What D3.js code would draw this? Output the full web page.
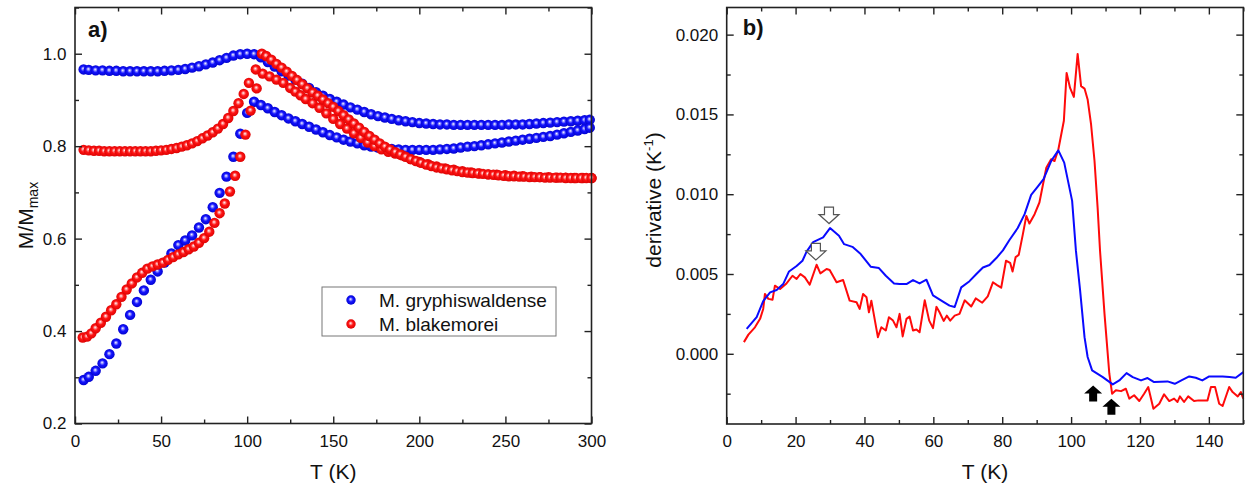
<!DOCTYPE html>
<html>
<head>
<meta charset="utf-8">
<script src="https://d3js.org/d3.v7.min.js"></script>
<style>
body { margin: 0; background: #fff; }
svg text { font-family: "Liberation Sans", Arial, sans-serif; fill: #111; }
</style>
</head>
<body>
<script>
//Panel a data: normalised magnetisation M/Mmax against temperature (K)
//blue = M. gryphiswaldense, red = M. blakemorei, two branches each

var tBlue = [5,8,12,16,20,24,28,32,36,40,44,48,52,56,60,64,68,72,76,80,84,88,92,96,100,104,108,112,116,120,
  124,128,132,136,140,144,148,152,156,160,164,168,172,176,180,184,188,192,196,200,204,208,212,216,220,224,228,232,236,240,
  244,248,252,256,260,264,268,272,276,280,284,288,292,296,299];

var mBlueUpper = [0.966,0.965,0.964,0.964,0.963,0.963,0.962,0.962,0.962,0.962,
  0.962,0.962,0.963,0.964,0.965,0.967,0.970,0.973,0.977,0.981,
  0.986,0.991,0.996,0.999,1.000,0.999,0.992,0.982,0.972,0.962,
  0.953,0.944,0.935,0.926,0.917,0.909,0.902,0.896,0.890,0.884,
  0.879,0.874,0.869,0.865,0.862,0.859,0.856,0.854,0.852,0.850,
  0.849,0.848,0.847,0.847,0.846,0.846,0.846,0.846,0.846,0.846,
  0.846,0.846,0.847,0.847,0.847,0.848,0.849,0.850,0.851,0.852,
  0.853,0.854,0.855,0.856,0.857];

var mBlueLower = [0.294,0.301,0.314,0.330,0.350,0.373,0.404,0.435,0.463,0.488,
  0.511,0.529,0.548,0.568,0.586,0.596,0.607,0.624,0.642,0.668,
  0.699,0.734,0.777,0.827,0.872,0.896,0.889,0.882,0.874,0.867,
  0.860,0.854,0.848,0.842,0.836,0.830,0.824,0.819,0.814,0.810,
  0.806,0.802,0.799,0.797,0.795,0.794,0.793,0.792,0.792,0.792,
  0.792,0.792,0.793,0.794,0.795,0.797,0.799,0.800,0.802,0.804,
  0.806,0.808,0.810,0.812,0.814,0.816,0.818,0.820,0.822,0.825,
  0.828,0.831,0.834,0.837,0.840];

var tRedUpper = [5,8,11,14,17,20,23,26,29,32,35,38,41,44,47,50,53,56,59,62,65,68,71,74,77,80,83,86,89,92,
  95,98,101,105,108.5,
  111,114,117,120,123,126,129,132,135,138,141,144,147,150,153,156,159,162,165,168,171,174,177,180,183,186,189,192,195,198,
  201,204,207,210,213,216,219,222,225,228,231,234,237,240,243,246,249,252,255,258,261,264,267,270,273,276,279,282,285,288,
  291,294,297,300];

var mRedUpper = [0.792,0.791,0.790,0.790,0.789,0.789,0.789,0.789,0.789,0.789,
  0.789,0.789,0.789,0.789,0.790,0.791,0.792,0.794,0.796,0.799,
  0.802,0.806,0.811,0.817,0.823,0.830,0.838,0.848,0.861,0.876,
  0.893,0.913,0.937,0.966,1.000,
  0.995,0.987,0.978,0.970,0.961,0.952,0.943,0.934,0.925,0.916,
  0.909,0.901,0.893,0.885,0.876,0.867,0.858,0.849,0.840,0.831,
  0.822,0.814,0.806,0.799,0.793,0.787,0.782,0.777,0.772,0.768,
  0.764,0.760,0.757,0.754,0.752,0.750,0.748,0.746,0.744,0.743,
  0.742,0.741,0.740,0.739,0.738,0.737,0.736,0.735,0.735,0.734,
  0.734,0.733,0.733,0.733,0.732,0.732,0.732,0.732,0.731,0.731,
  0.731,0.731,0.731,0.731];

var tRedLower = [4.5,7,9.5,12,15,18,21,24,27,30,33,36,39,42,45,48,51,54,57,60,63,66,69,72,75,78,81,84,87,90,
  93,96,99,102,105.5,109,113,117,121,125,128,131,134,138,142,146,150,154,158,162,166,170,174,178,182,186,
  190,195,200,205,210,215,220,225,230,235,240,245,250,255,260,265,270,275,280,285,290,295,300];

var mRedLower = [0.386,0.388,0.395,0.406,0.418,0.431,0.445,0.458,0.474,0.490,
  0.503,0.516,0.526,0.535,0.540,0.544,0.548,0.554,0.560,0.566,
  0.571,0.577,0.583,0.591,0.601,0.615,0.634,0.655,0.676,0.702,
  0.736,0.777,0.825,0.877,0.925,0.957,0.951,0.944,0.937,0.926,
  0.918,0.910,0.902,0.893,0.883,0.871,0.859,0.848,0.838,0.828,
  0.818,0.808,0.800,0.793,0.788,0.784,
  0.780,0.772,0.766,0.761,0.756,0.752,0.749,0.746,0.743,0.741,
  0.739,0.738,0.737,0.736,0.735,0.734,0.733,0.733,0.732,0.732,
  0.731,0.731,0.731];

//Panel b data: derivative dM/dT (1/K) against temperature (K)
var tBlueD = [5.8,8.7,10.6,12.6,14.5,16.4,18.1,20.3,22,23.2,25.1,28,30,32.6,34.1,36.5,38.9,41.8,44.2,46.2,
  48.6,50.2,52.2,54.1,56,58,59.9,62.8,64.7,66.2,68.1,70.5,72.5,74.4,76.3,78.3,80.2,82.1,84.5,86.5,
  88.4,90.2,92,94.2,96.3,98,100.3,101.4,102.6,103.9,104.8,106.1,109.2,112.1,114,116.1,117.9,120.3,122.2,124.1,
  126,128,130.1,132.3,134.3,136.2,138.1,140.1,142,144,146,147.8,150];

var dBlue = [0.00156,0.0023,0.0033,0.00385,0.0040,0.00437,0.00516,0.0055,0.00583,0.0064,
  0.0070,0.0073,0.00788,0.0074,0.00687,0.0067,0.00625,0.00546,0.00537,0.00489,
  0.00441,0.00437,0.00437,0.00462,0.00441,0.00464,0.00366,0.00327,0.00302,0.00293,
  0.00416,0.00455,0.0050,0.00541,0.00556,0.0060,0.00648,0.00713,0.00788,0.00875,
  0.00996,0.01045,0.01094,0.01208,0.01275,0.01198,0.00958,0.00646,0.0040,0.00104,
  -0.0002,-0.00104,-0.00146,-0.00192,-0.00167,-0.00121,-0.00146,-0.00167,-0.00152,-0.00177,
  -0.00175,-0.00173,-0.00188,-0.00163,-0.00142,-0.0015,-0.00167,-0.00142,-0.00142,-0.00142,
  -0.00146,-0.0015,-0.00115];

var tRedD = [5,6.3,8.2,9.7,10.6,11.1,12.1,13.3,14,15.5,17.2,19.1,20.3,21.4,22.7,24.1,26.1,27.2,29,29.9,
  31.9,33.8,35.7,37.7,38.6,39.6,40.6,41.3,42,43.9,44.9,46.2,47.1,48.3,49.3,50.2,51.1,52.2,53.1,54.1,
  55.1,56,57.5,58.8,59.9,60.9,61.8,63,63.9,64.9,66.2,67.6,69.1,71,72.3,74.2,75.8,77.3,78.5,79.7,
  81.1,82.3,83,83.9,84.8,86,87,87.9,89.4,90.8,92.8,94.2,95.2,96.3,97.9,98.7,99.7,100.8,101.9,102.9,
  103.9,104.8,105.8,106.8,107.7,108.4,109.7,111.1,111.9,113,114.5,115.9,116.9,118.3,119.8,121.2,122.4,123.9,125.6,127,
  128.5,129.9,130.9,131.6,132.8,134,135.7,137,138.1,139.6,140.6,141.8,143,144,145.9,146.9,148.4,149.3,150];

var dRed = [0.00073,0.0012,0.00166,0.00219,0.00281,0.00375,0.00344,0.00338,0.00427,0.00406,
  0.00437,0.00489,0.00469,0.005,0.00479,0.00433,0.00558,0.00504,0.00531,0.00525,
  0.00448,0.00462,0.00333,0.00323,0.00281,0.00375,0.00354,0.0026,0.00333,0.00104,
  0.00166,0.00146,0.00229,0.00208,0.00166,0.0025,0.00109,0.00219,0.00233,0.00146,
  0.00152,0.00135,0.00335,0.00208,0.00161,0.00294,0.0026,0.00206,0.00239,0.00208,
  0.00239,0.0025,0.00335,0.00296,0.00347,0.0032,0.0036,0.00448,0.0043,0.00414,
  0.00583,0.0057,0.00516,0.00606,0.0062,0.0075,0.00864,0.00816,0.00875,0.00948,
  0.01166,0.01219,0.01208,0.0128,0.0146,0.0176,0.01666,0.0161,0.01879,0.01677,
  0.01662,0.01594,0.01437,0.01208,0.00916,0.00646,0.0025,-0.00125,-0.0025,-0.00229,
  -0.00234,-0.00219,-0.00281,-0.0026,-0.00296,-0.0025,-0.00208,-0.00344,-0.00313,-0.00254,
  -0.00296,-0.00281,-0.00302,-0.00267,-0.00302,-0.00267,-0.00296,-0.00292,-0.00292,-0.00292,
  -0.00208,-0.00208,-0.00313,-0.00327,-0.00208,-0.0024,-0.00267,-0.0024,-0.00281];

//Arrow markers (tip position in data units)
var openArrows = [[29.7, 0.00816], [25.9, 0.00588]];
var solidArrows = [[106.4, -0.00198], [111.7, -0.00281]];

//Axis ticks
var aXMajor = [0, 50, 100, 150, 200, 250, 300];
var aXMinor = [25, 75, 125, 175, 225, 275];
var aYMajor = [0.2, 0.4, 0.6, 0.8, 1.0];
var aYMinor = [0.3, 0.5, 0.7, 0.9, 1.1];
var bXMajor = [0, 20, 40, 60, 80, 100, 120, 140];
var bXMinor = [10, 30, 50, 70, 90, 110, 130, 150];
var bYMajor = [0.000, 0.005, 0.010, 0.015, 0.020];
var bYMinor = [-0.0025, 0.0025, 0.0075, 0.0125, 0.0175];

var legendNames = ['M. gryphiswaldense', 'M. blakemorei'];

var blue = '#0a0aff';
var red = '#ff0a0a';

var svg = d3.select('body')
  .append('svg')
  .attr('width', 1249)
  .attr('height', 484);

//Shaded "ball" look of the symbols
var defs = svg.append('defs');
function ball(id, light, mid, dark) {
  var g = defs.append('radialGradient')
    .attr('id', id)
    .attr('cx', '50%').attr('cy', '50%').attr('r', '55%')
    .attr('fx', '45%').attr('fy', '40%');
  g.append('stop').attr('offset', '0%').attr('stop-color', '#ffffff');
  g.append('stop').attr('offset', '18%').attr('stop-color', light);
  g.append('stop').attr('offset', '45%').attr('stop-color', mid);
  g.append('stop').attr('offset', '100%').attr('stop-color', dark);
}
ball('ballBlue', '#9a9aff', '#1414ff', '#0000c8');
ball('ballRed', '#ff9a9a', '#ff1414', '#d80000');

//Draws the box, inward ticks on all four sides and the labels
function frame(g, x, y, box, xMajor, xMinor, yMajor, yMinor, yFmt) {
  function style(sel) {
    sel.select('.domain').remove();
    sel.attr('font-size', 17)
      .attr('font-family', '"Liberation Sans", Arial, sans-serif')
      .attr('color', '#222');
    sel.selectAll('line').attr('stroke-width', 1.4);
  }
  g.append('g').attr('transform', 'translate(0,' + box.bottom + ')')
    .call(d3.axisBottom(x).tickValues(xMajor).tickSize(-7).tickPadding(11).tickFormat(d3.format('d')))
    .call(style);
  g.append('g').attr('transform', 'translate(0,' + box.bottom + ')')
    .call(d3.axisBottom(x).tickValues(xMinor).tickSize(-4).tickFormat(''))
    .call(style);
  g.append('g').attr('transform', 'translate(0,' + box.top + ')')
    .call(d3.axisTop(x).tickValues(xMajor).tickSize(-7).tickFormat(''))
    .call(style);
  g.append('g').attr('transform', 'translate(0,' + box.top + ')')
    .call(d3.axisTop(x).tickValues(xMinor).tickSize(-4).tickFormat(''))
    .call(style);
  g.append('g').attr('transform', 'translate(' + box.left + ',0)')
    .call(d3.axisLeft(y).tickValues(yMajor).tickSize(-7).tickPadding(8.5).tickFormat(yFmt))
    .call(style);
  g.append('g').attr('transform', 'translate(' + box.left + ',0)')
    .call(d3.axisLeft(y).tickValues(yMinor).tickSize(-4).tickFormat(''))
    .call(style);
  g.append('g').attr('transform', 'translate(' + box.right + ',0)')
    .call(d3.axisRight(y).tickValues(yMajor).tickSize(-7).tickFormat(''))
    .call(style);
  g.append('g').attr('transform', 'translate(' + box.right + ',0)')
    .call(d3.axisRight(y).tickValues(yMinor).tickSize(-4).tickFormat(''))
    .call(style);
  g.append('rect')
    .attr('x', box.left).attr('y', box.top)
    .attr('width', box.right - box.left).attr('height', box.bottom - box.top)
    .attr('fill', 'none').attr('stroke', '#222').attr('stroke-width', 1.6);
}

// ---------- Panel a ----------
var boxA = {left: 75, right: 591.5, top: 7.5, bottom: 423.5};
var xA = d3.scaleLinear().domain([0, 300]).range([boxA.left, boxA.right]);
var yA = d3.scaleLinear().domain([0.2, 1.1]).range([boxA.bottom, boxA.top]);

var gA = svg.append('g');

function dots(t, m, fill) {
  gA.append('g').selectAll('circle')
    .data(d3.zip(t, m))
    .enter()
    .append('circle')
    .attr('cx', function (d) { return xA(d[0]); })
    .attr('cy', function (d) { return yA(d[1]); })
    .attr('r', 5.2)
    .attr('fill', fill);
}
dots(tBlue, mBlueUpper, 'url(#ballBlue)');
dots(tBlue, mBlueLower, 'url(#ballBlue)');
dots(tRedLower, mRedLower, 'url(#ballRed)');
dots(tRedUpper, mRedUpper, 'url(#ballRed)');

frame(gA, xA, yA, boxA, aXMajor, aXMinor, aYMajor, aYMinor, d3.format('.1f'));

gA.append('text')
  .attr('x', boxA.left + 13).attr('y', 37)
  .attr('font-size', 22).attr('font-weight', 'bold')
  .text('a)');

gA.append('text')
  .attr('x', (boxA.left + boxA.right) / 2).attr('y', 479)
  .attr('text-anchor', 'middle').attr('font-size', 21)
  .text('T (K)');

var yLabA = gA.append('text')
  .attr('transform', 'translate(33,' + (boxA.top + boxA.bottom) / 2 + ') rotate(-90)')
  .attr('text-anchor', 'middle').attr('font-size', 21);
yLabA.append('tspan').text('M/M');
yLabA.append('tspan').attr('font-size', 14).attr('dy', 5).text('max');

//Legend
var leg = gA.append('g').attr('transform', 'translate(322,287)');
leg.append('rect')
  .attr('width', 234).attr('height', 49)
  .attr('fill', '#fff').attr('stroke', '#777').attr('stroke-width', 1);
leg.selectAll('circle')
  .data(legendNames)
  .enter()
  .append('circle')
  .attr('cx', 29)
  .attr('cy', function (d, i) { return 13 + i * 24; })
  .attr('r', 4.7)
  .attr('fill', function (d, i) { return i === 0 ? 'url(#ballBlue)' : 'url(#ballRed)'; });
leg.selectAll('text')
  .data(legendNames)
  .enter()
  .append('text')
  .attr('x', 57)
  .attr('y', function (d, i) { return 20 + i * 24; })
  .attr('font-size', 19)
  .text(function (d) { return d; });

// ---------- Panel b ----------
var boxB = {left: 726.7, right: 1243.3, top: 7.5, bottom: 424};
var xB = d3.scaleLinear().domain([0, 150]).range([boxB.left, boxB.right]);
var yB = d3.scaleLinear().domain([-0.0044, 0.0217]).range([boxB.bottom, boxB.top]);

var gB = svg.append('g');

var line = d3.line()
  .x(function (d) { return xB(d[0]); })
  .y(function (d) { return yB(d[1]); });

gB.append('path')
  .datum(d3.zip(tRedD, dRed))
  .attr('d', line)
  .attr('fill', 'none').attr('stroke', red).attr('stroke-width', 2)
  .attr('stroke-linejoin', 'round');
gB.append('path')
  .datum(d3.zip(tBlueD, dBlue))
  .attr('d', line)
  .attr('fill', 'none').attr('stroke', blue).attr('stroke-width', 2)
  .attr('stroke-linejoin', 'round');

//Hollow arrows pointing down at the low temperature maxima
gB.selectAll('.open')
  .data(openArrows)
  .enter()
  .append('path')
  .attr('class', 'open')
  .attr('transform', function (d) { return 'translate(' + xB(d[0]) + ',' + yB(d[1]) + ')'; })
  .attr('d', 'M0,0 L-10,-9 L-4.5,-9 L-4.5,-16.5 L4.5,-16.5 L4.5,-9 L10,-9 Z')
  .attr('fill', '#fff').attr('stroke', '#555').attr('stroke-width', 1.2);

//Solid arrows pointing up at the transition end
gB.selectAll('.solid')
  .data(solidArrows)
  .enter()
  .append('path')
  .attr('class', 'solid')
  .attr('transform', function (d) { return 'translate(' + xB(d[0]) + ',' + yB(d[1]) + ')'; })
  .attr('d', 'M0,0 L9,8 L4,8 L4,16 L-4,16 L-4,8 L-9,8 Z')
  .attr('fill', '#000');

frame(gB, xB, yB, boxB, bXMajor, bXMinor, bYMajor, bYMinor, d3.format('.3f'));

gB.append('text')
  .attr('x', boxB.left + 16).attr('y', 35)
  .attr('font-size', 22).attr('font-weight', 'bold')
  .text('b)');

gB.append('text')
  .attr('x', (boxB.left + boxB.right) / 2).attr('y', 479)
  .attr('text-anchor', 'middle').attr('font-size', 21)
  .text('T (K)');

//the label sits a little above the middle of the box in the original
var yLabB = gB.append('text')
  .attr('transform', 'translate(661,200) rotate(-90)')
  .attr('text-anchor', 'middle').attr('font-size', 21);
yLabB.append('tspan').text('derivative (K');
yLabB.append('tspan').attr('font-size', 13).attr('dy', -8).text('-1');
yLabB.append('tspan').attr('dy', 8).text(')');
</script>
</body>
</html>
